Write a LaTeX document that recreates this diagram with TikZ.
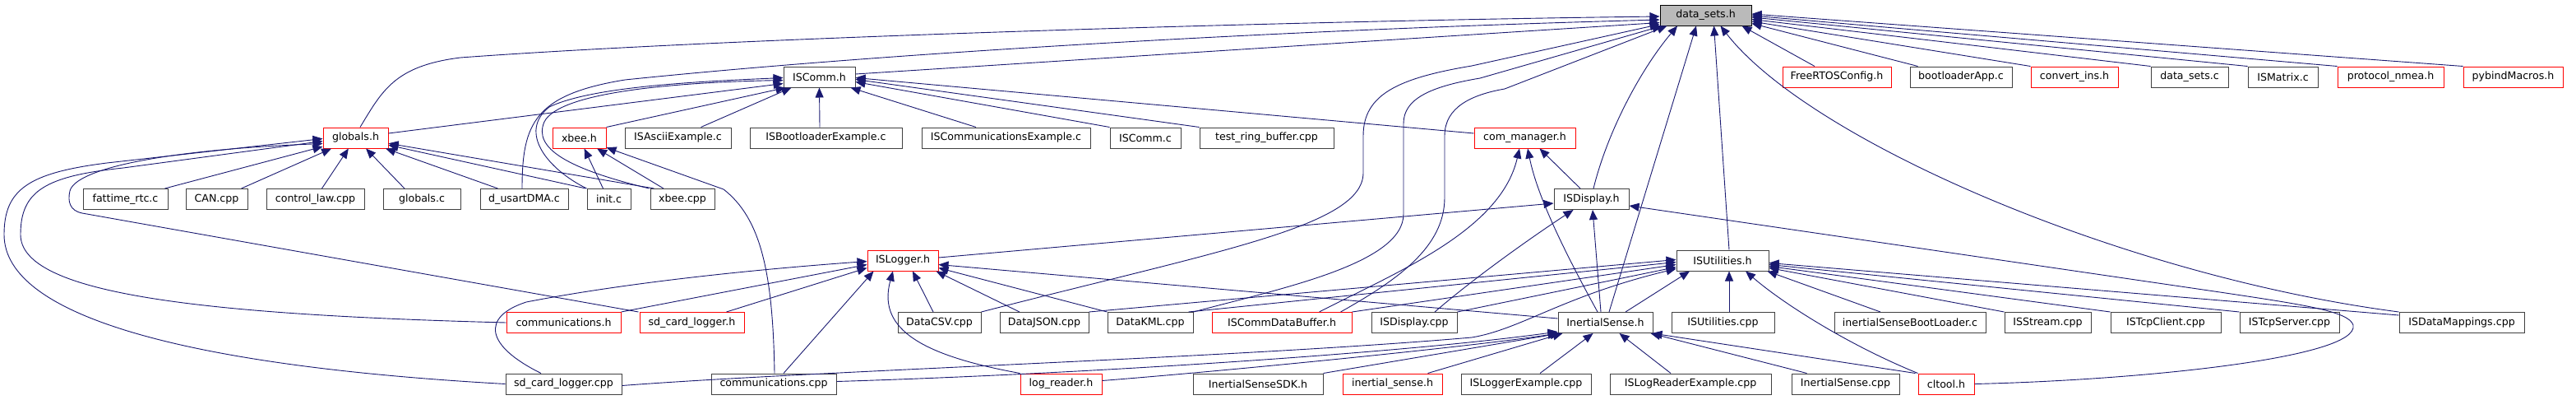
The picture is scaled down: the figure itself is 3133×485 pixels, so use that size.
\documentclass[tikz,border=0pt]{standalone}
\usepackage{fontspec}
\setmainfont{DejaVu Sans}
\usetikzlibrary{arrows.meta}
\definecolor{edgec}{HTML}{191970}
\definecolor{boxgray}{HTML}{404040}
\begin{document}
\begin{tikzpicture}[x=1pt,y=-1pt,
 box/.style={draw=boxgray,line width=1pt,fill=white,minimum height=25pt,inner sep=0pt,font=\fontsize{12.6}{15}\selectfont},
 redbox/.style={box,draw=red},
 rootbox/.style={box,fill=black!27,draw=black},
 edge/.style={draw=edgec,line width=0.9pt,-{Triangle[length=12pt,width=10pt]}}]
\useasboundingbox (0,0) rectangle (3133,485);
% row 0
\node[rootbox,minimum width=111pt] (D) at (2074.5,18.5) {data\_sets.h};
% row 1
\node[box,minimum width=87pt] (ISCommH) at (996.5,93.5) {ISComm.h};
\node[redbox,minimum width=132pt] (freertos) at (2234,93.5) {FreeRTOSConfig.h};
\node[box,minimum width=124pt] (bootapp) at (2385,93.5) {bootloaderApp.c};
\node[redbox,minimum width=106pt] (convins) at (2523,93.5) {convert\_ins.h};
\node[box,minimum width=94pt] (dsc) at (2663,93.5) {data\_sets.c};
\node[box,minimum width=85pt] (ismatrix) at (2776.5,93.5) {ISMatrix.c};
\node[redbox,minimum width=129pt] (nmea) at (2907.5,93.5) {protocol\_nmea.h};
\node[redbox,minimum width=121pt] (pybind) at (3056.5,93.5) {pybindMacros.h};
% row 2
\node[redbox,minimum width=79pt] (globalsh) at (432.5,167.5) {globals.h};
\node[redbox,minimum width=65pt] (xbeeh) at (704.5,167.5) {xbee.h};
\node[box,minimum width=129pt] (asciiex) at (824.5,167.5) {ISAsciiExample.c};
\node[box,minimum width=185pt] (bootex) at (1004.5,167.5) {ISBootloaderExample.c};
\node[box,minimum width=205pt] (commex) at (1223.5,167.5) {ISCommunicationsExample.c};
\node[box,minimum width=86pt] (iscommc) at (1393,167.5) {ISComm.c};
\node[box,minimum width=163pt] (ringbuf) at (1540.5,167.5) {test\_ring\_buffer.cpp};
\node[redbox,minimum width=123pt] (comman) at (1854.5,167.5) {com\_manager.h};
% row 3
\node[box,minimum width=103pt] (fattime) at (152.5,242) {fattime\_rtc.c};
\node[box,minimum width=75pt] (can) at (263.5,242) {CAN.cpp};
\node[box,minimum width=119pt] (control) at (383.5,242) {control\_law.cpp};
\node[box,minimum width=94pt] (globalsc) at (513,242) {globals.c};
\node[box,minimum width=107pt] (usart) at (637.5,242) {d\_usartDMA.c};
\node[box,minimum width=53pt] (initc) at (740.5,242) {init.c};
\node[box,minimum width=78pt] (xbeecpp) at (830,242) {xbee.cpp};
\node[box,minimum width=91pt] (isdisph) at (1935.5,242) {ISDisplay.h};
% row 4
\node[redbox,minimum width=86pt] (isloggerh) at (1098,316.5) {ISLogger.h};
\node[box,minimum width=112pt] (isutilh) at (2095,316.5) {ISUtilities.h};
% row 5
\node[redbox,minimum width=139pt] (commh) at (685.5,392) {communications.h};
\node[redbox,minimum width=127pt] (sdh) at (841.5,392) {sd\_card\_logger.h};
\node[box,minimum width=101pt] (csv) at (1142.5,392) {DataCSV.cpp};
\node[box,minimum width=108pt] (json) at (1270,392) {DataJSON.cpp};
\node[box,minimum width=104pt] (kml) at (1399,392) {DataKML.cpp};
\node[redbox,minimum width=170pt] (cdb) at (1559,392) {ISCommDataBuffer.h};
\node[box,minimum width=104pt] (dispcpp) at (1720,392) {ISDisplay.cpp};
\node[box,minimum width=115pt] (ish) at (1952.5,392) {InertialSense.h};
\node[box,minimum width=125pt] (utilcpp) at (2095.5,392) {ISUtilities.cpp};
\node[box,minimum width=184pt] (bootldr) at (2323,392) {inertialSenseBootLoader.c};
\node[box,minimum width=105pt] (stream) at (2490.5,392) {ISStream.cpp};
\node[box,minimum width=134pt] (tcpc) at (2634,392) {ISTcpClient.cpp};
\node[box,minimum width=121pt] (tcps) at (2784.5,392) {ISTcpServer.cpp};
\node[box,minimum width=152pt] (dmap) at (2994,392) {ISDataMappings.cpp};
% row 6
\node[box,minimum width=141pt] (sdcpp) at (685.5,466.5) {sd\_card\_logger.cpp};
\node[box,minimum width=152pt] (commcpp) at (941,466.5) {communications.cpp};
\node[redbox,minimum width=99pt] (logreader) at (1290.5,466.5) {log\_reader.h};
\node[box,minimum width=158pt] (sdk) at (1530,466.5) {InertialSenseSDK.h};
\node[redbox,minimum width=121pt] (isense) at (1693.5,466.5) {inertial\_sense.h};
\node[box,minimum width=158pt] (loggerex) at (1856,466.5) {ISLoggerExample.cpp};
\node[box,minimum width=196pt] (readerex) at (2056,466.5) {ISLogReaderExample.cpp};
\node[box,minimum width=131pt] (iscpp) at (2244.5,466.5) {InertialSense.cpp};
\node[redbox,minimum width=68pt] (cltool) at (2367,466.5) {cltool.h};

% ---- edges to data_sets.h
\draw[edge] ([xshift=5.5pt]globalsh.north) .. controls (465,110) and (480,80) .. (560,70) .. controls (900,45) and (1600,25) .. ([yshift=-1.5pt]D.west);
\draw[edge] ([xshift=-2.5pt]usart.north) .. controls (635,150) and (650,115) .. (760,97) .. controls (1100,62) and (1600,35) .. ([yshift=-5.5pt]D.west);
\draw[edge] ([yshift=3.5pt]ISCommH.east) -- ([yshift=-9pt]D.west);
\draw[edge] (csv.north east) .. controls (1480,305) and (1658,275) .. (1658,210) -- (1658,165) .. controls (1658,115) and (1700,95) .. (1790,80) -- ([yshift=-11pt]D.west);
\draw[edge] (kml.north east) .. controls (1560,350) and (1707,320) .. (1707,260) -- (1707,150) .. controls (1707,120) and (1740,105) .. (1800,95) -- ([xshift=3pt]D.south west);
\draw[edge] ([xshift=-14pt]cdb.north east) .. controls (1700,340) and (1757,300) .. (1757,240) -- (1757,165) .. controls (1757,130) and (1790,115) .. (1830,108) -- ([xshift=9pt]D.south west);
\draw[edge] ([xshift=-27pt]freertos.north) -- ([xshift=-12pt]D.south east);
\draw[edge] ([xshift=10pt]bootapp.north west) -- ([yshift=-10pt]D.east);
\draw[edge] (convins.north west) -- ([yshift=-7.5pt]D.east);
\draw[edge] (dsc.north west) -- ([yshift=-5pt]D.east);
\draw[edge] (ismatrix.north west) -- ([yshift=-2.5pt]D.east);
\draw[edge] (nmea.north west) -- ([yshift=-0.5pt]D.east);
\draw[edge] (pybind.north west) -- ([yshift=1.5pt]D.east);
\draw[edge] ([xshift=2.5pt]isdisph.north) .. controls (1955,160) and (1995,85) .. ([xshift=-34.5pt]D.south);
\draw[edge] ([xshift=4.5pt]ish.north) -- ([xshift=-11.5pt]D.south);
\draw[edge] ([xshift=8pt]isutilh.north) -- ([xshift=10pt]D.south);
\draw[edge] (dmap.north west) .. controls (2580,335) and (2200,170) .. ([xshift=18pt]D.south);

% ---- edges to ISComm.h
\draw[edge] ([yshift=5.5pt]globalsh.east) -- ([yshift=-8pt]ISCommH.west);
\draw[edge] (xbeeh.north east) -- ([xshift=3pt]ISCommH.south west);
\draw[edge] ([xshift=28pt]asciiex.north) -- ([xshift=10pt]ISCommH.south west);
\draw[edge] ([xshift=-7.5pt]bootex.north) -- (ISCommH.south);
\draw[edge] ([xshift=-36.5pt]commex.north) -- ([xshift=-6pt]ISCommH.south east);
\draw[edge] (iscommc.north west) -- ([yshift=-6pt]ISCommH.east);
\draw[edge] (ringbuf.north west) -- ([yshift=-3pt]ISCommH.east);
\draw[edge] ([yshift=5.5pt]comman.west) -- ([yshift=-1pt]ISCommH.east);
\draw[edge] (initc.north west) .. controls (665,205) and (630,160) .. (668,130) .. controls (720,105) and (850,99) .. ([yshift=-1pt]ISCommH.west);
\draw[edge] ([xshift=-1pt]xbeecpp.north west) .. controls (690,205) and (648,180) .. (662,148) .. controls (680,112) and (820,100) .. ([yshift=-4pt]ISCommH.west);

% ---- edges to globals.h
\draw[edge] ([xshift=-4pt]fattime.north east) -- (globalsh);
\draw[edge] ([xshift=-8pt]can.north east) -- (globalsh);
\draw[edge] ([xshift=8pt]control.north) -- (globalsh);
\draw[edge] ([xshift=-21pt]globalsc.north) -- (globalsh);
\draw[edge] ([xshift=-32pt]usart.north) -- (globalsh);
\draw[edge] ([xshift=-1pt]initc.north west) -- (globalsh);
\draw[edge] ([xshift=5pt]xbeecpp.north west) -- (globalsh);
\draw[edge] (commh.west) .. controls (230,382) and (25,355) .. (25,285) .. controls (25,232) and (55,214) .. (150,204) -- ([yshift=-4pt]globalsh.west);
\draw[edge] (sdcpp.west) .. controls (230,445) and (5,385) .. (5,285) .. controls (5,230) and (35,210) .. (130,198) -- ([yshift=-1pt]globalsh.west);
\draw[edge] ([xshift=-1pt]sdh.north west) -- (100,259) .. controls (85,256) and (82,245) .. (85,232) .. controls (92,205) and (200,182) .. ([yshift=-7pt]globalsh.west);

% ---- edges to xbee.h
\draw[edge] ([xshift=-7pt]initc.north) -- (xbeeh);
\draw[edge] ([xshift=-23pt]xbeecpp.north) -- (xbeeh);
\draw[edge] ([xshift=1pt]commcpp.north) .. controls (940,330) and (925,265) .. (880,230) -- (xbeeh);

% ---- edges to com_manager.h
\draw[edge] ([xshift=-13.5pt]isdisph.north) -- ([xshift=18pt]comman.south);
\draw[edge] ([xshift=-9.5pt]ish.north) .. controls (1905,310) and (1870,240) .. ([xshift=3.5pt]comman.south);
\draw[edge] ([xshift=-40pt]cdb.north east) .. controls (1700,330) and (1825,280) .. ([xshift=-6.5pt]comman.south);

% ---- edges to ISDisplay.h
\draw[edge] ([yshift=3.5pt]isloggerh.east) -- ([yshift=-5pt]isdisph.west);
\draw[edge] ([xshift=-5.5pt]ish.north) -- ([xshift=1.5pt]isdisph.south);
\draw[edge] ([xshift=25pt]dispcpp.north) .. controls (1790,340) and (1860,290) .. ([xshift=-22pt]isdisph.south);
\draw[edge] (cltool.east) .. controls (2600,462) and (2870,435) .. (2862,395) .. controls (2857,378) and (2800,370) .. (2700,355) -- ([yshift=-8pt]isdisph.east);

% ---- edges to ISLogger.h
\draw[edge] ([xshift=-27.5pt]sdcpp.north) .. controls (590,420) and (585,385) .. (640,367) .. controls (780,340) and (950,325) .. ([yshift=-1pt]isloggerh.west);
\draw[edge] (commh.north east) -- ([yshift=-5pt]isloggerh.west);
\draw[edge] ([xshift=-22pt]sdh.north east) -- ([yshift=-9pt]isloggerh.west);
\draw[edge] ([xshift=12pt]commcpp.north) -- ([xshift=8pt]isloggerh.south west);
\draw[edge] ([xshift=-7.5pt]csv.north) -- ([xshift=12pt]isloggerh.south);
\draw[edge] ([xshift=-30pt]json.north) -- ([xshift=-3pt]isloggerh.south east);
\draw[edge] (kml.north west) -- ([yshift=-9pt]isloggerh.east);
\draw[edge] (logreader.north west) .. controls (1110,430) and (1068,395) .. ([xshift=-12pt]isloggerh.south);
\draw[edge] ([yshift=5pt]ish.west) -- ([yshift=-5pt]isloggerh.east);

% ---- edges to InertialSense.h
\draw[edge] (sdk.north east) -- ([xshift=3pt]ish.south west);
\draw[edge] ([xshift=43pt]isense.north) -- ([xshift=6pt]ish.south west);
\draw[edge] ([xshift=17pt]loggerex.north) -- ([xshift=-15pt]ish.south);
\draw[edge] ([xshift=-24pt]readerex.north) -- ([xshift=17pt]ish.south);
\draw[edge] ([xshift=-47pt]iscpp.north) -- ([xshift=-3pt]ish.south east);
\draw[edge] ([xshift=-3pt]cltool.north west) -- ([xshift=-1pt]ish.south east);
\draw[edge] ([yshift=4pt]logreader.east) .. controls (1500,450) and (1800,420) .. (ish.south west);
\draw[edge] ([yshift=3pt]commcpp.east) .. controls (1300,455) and (1700,430) .. ([yshift=2pt]ish.south west);

% ---- edges to ISUtilities.h
\draw[edge] ([xshift=7.5pt]utilcpp.north) -- ([xshift=8pt]isutilh.south);
\draw[edge] ([xshift=-36pt]bootldr.north) -- ([xshift=-2pt]isutilh.south east);
\draw[edge] (stream.north west) -- ([yshift=-9pt]isutilh.east);
\draw[edge] (tcpc.north west) -- ([yshift=-7pt]isutilh.east);
\draw[edge] (tcps.north west) -- ([yshift=-5pt]isutilh.east);
\draw[edge] ([yshift=9pt]dmap.west) -- ([yshift=-3pt]isutilh.east);
\draw[edge] (cltool.north west) .. controls (2250,420) and (2170,370) .. ([xshift=28pt]isutilh.south);
\draw[edge] ([xshift=24.5pt]ish.north) -- ([xshift=-40pt]isutilh.south);
\draw[edge] (dispcpp.north east) -- ([yshift=-8pt]isutilh.west);
\draw[edge] (cdb.north east) -- ([yshift=-5pt]isutilh.west);
\draw[edge] ([xshift=-6pt]kml.north east) -- ([yshift=-2pt]isutilh.west);
\draw[edge] (json.north east) -- ([yshift=1pt]isutilh.west);
\draw[edge] ([yshift=-2pt]sdcpp.east) .. controls (1000,450) and (1500,435) .. (1790,410) .. controls (1850,400) and (1900,360) .. ([yshift=-10pt]isutilh.west);
\end{tikzpicture}
\end{document}
